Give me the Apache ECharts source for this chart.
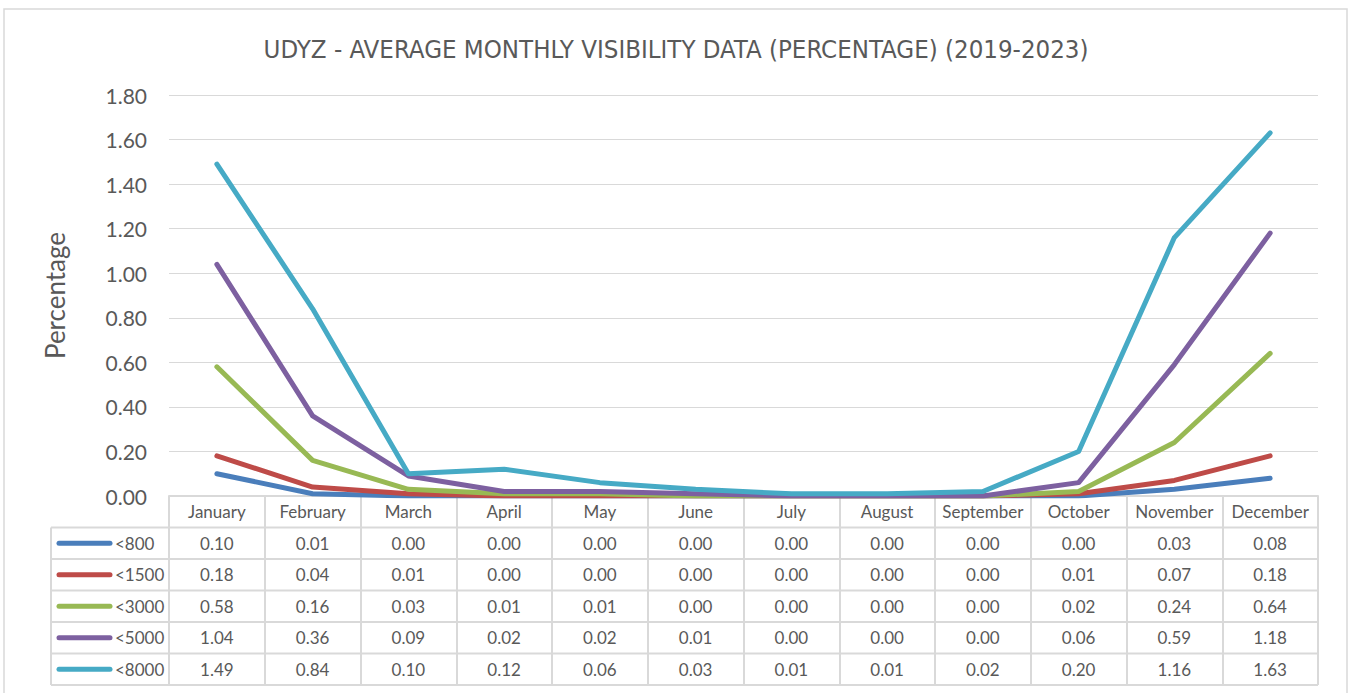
<!DOCTYPE html>
<html><head><meta charset="utf-8">
<script src="https://cdn.jsdelivr.net/npm/echarts@6/dist/echarts.min.js"></script>
<style>html,body{margin:0;padding:0;background:#fff}#c{width:1352px;height:693px}</style>
</head><body><div id="c"></div>
<script>
const categories = ['January','February','March','April','May','June','July','August','September','October','November','December'];
const seriesNames = ['<800','<1500','<3000','<5000','<8000'];
const v800  = [0.10,0.01,0.00,0.00,0.00,0.00,0.00,0.00,0.00,0.00,0.03,0.08];
const v1500 = [0.18,0.04,0.01,0.00,0.00,0.00,0.00,0.00,0.00,0.01,0.07,0.18];
const v3000 = [0.58,0.16,0.03,0.01,0.01,0.00,0.00,0.00,0.00,0.02,0.24,0.64];
const v5000 = [1.04,0.36,0.09,0.02,0.02,0.01,0.00,0.00,0.00,0.06,0.59,1.18];
const v8000 = [1.49,0.84,0.10,0.12,0.06,0.03,0.01,0.01,0.02,0.20,1.16,1.63];
const seriesValues = [v800, v1500, v3000, v5000, v8000];
const colors = ['#4a7ebb','#be4b48','#98b954','#7d60a0','#46aac5'];
const yMin = 0, yMax = 1.8, yInterval = 0.2;

const FONT = 'Lato, "Open Sans", sans-serif';
const TXT = '#595959';
const BORDER = '#d9d9d9';

const chart = echarts.init(document.getElementById('c'), null, {renderer:'svg'});
const gridLeft = 169, gridRight = 34, gridTop = 95, gridBottom = 197;
const tableBottom = 685;
chart.setOption({
  animation:false,
  backgroundColor:'#fff',
  title:{text:'UDYZ - AVERAGE MONTHLY VISIBILITY DATA (PERCENTAGE) (2019-2023)', left:'center', top:31,
    textStyle:{fontFamily:'"Liberation Sans Narrow","DejaVu Sans Condensed",sans-serif', fontSize:25.6, fontWeight:'normal', color:TXT}},
  grid:{left:gridLeft, right:gridRight, top:gridTop, bottom:gridBottom},
  xAxis:{type:'category', data:categories, boundaryGap:true,
    axisLine:{show:true, lineStyle:{color:BORDER, width:2}},
    axisTick:{show:true, length:tableBottom-(693-gridBottom), lineStyle:{color:BORDER, width:2}},
    axisLabel:{margin:7, fontFamily:FONT, fontSize:17, color:TXT, interval:0}},
  yAxis:{type:'value', min:yMin, max:yMax, interval:yInterval,
    name:'Percentage', nameLocation:'middle', nameGap:101,
    nameTextStyle:{fontFamily:FONT, fontSize:26, color:TXT},
    axisLabel:{formatter:v=>v.toFixed(2), fontFamily:FONT, fontSize:21, color:TXT, margin:22},
    axisLine:{show:false}, axisTick:{show:false},
    splitLine:{lineStyle:{color:BORDER, width:1}}},
  series: seriesNames.map((n,i)=>({name:n, type:'line', data:seriesValues[i], symbol:'none',
    lineStyle:{color:colors[i], width:5, cap:'round', join:'round'}, itemStyle:{color:colors[i]}}))
});

// Data table drawn from the same arrays, positioned with the library's scales
const g = [];
const axisY = chart.convertToPixel({yAxisIndex:0}, 0);
const xLeft = gridLeft, xRight = 1352 - gridRight;
const tableLeft = 51;
const rowH = (tableBottom - axisY) / 6;
g.push({type:'rect', shape:{x:4, y:9, width:1343, height:700}, style:{fill:'none', stroke:BORDER, lineWidth:1.5}, z:-1, silent:true});
for (let r = 1; r <= 6; r++) {
  const y = axisY + r*rowH;
  g.push({type:'line', shape:{x1:tableLeft, y1:y, x2:xRight, y2:y}, style:{stroke:BORDER, lineWidth:2}});
}
g.push({type:'line', shape:{x1:tableLeft, y1:axisY+rowH, x2:tableLeft, y2:tableBottom}, style:{stroke:BORDER, lineWidth:2}});
g.push({type:'line', shape:{x1:xLeft, y1:axisY, x2:xLeft, y2:tableBottom}, style:{stroke:BORDER, lineWidth:2}});
seriesNames.forEach((n,i)=>{
  const cy = axisY + (i+1.5)*rowH;
  g.push({type:'line', shape:{x1:59, y1:cy, x2:110, y2:cy}, style:{stroke:colors[i], lineWidth:5, lineCap:'round'}});
  g.push({type:'text', x:115, y:cy, style:{text:n, fontFamily:FONT, fontSize:17, fill:TXT, align:'left', verticalAlign:'middle'}});
  seriesValues[i].forEach((v,j)=>{
    const cx = chart.convertToPixel({xAxisIndex:0}, j);
    g.push({type:'text', x:cx, y:cy, style:{text:v.toFixed(2), fontFamily:FONT, fontSize:17, fill:TXT, align:'center', verticalAlign:'middle'}});
  });
});
chart.setOption({graphic:{elements:g}});
</script></body></html>
